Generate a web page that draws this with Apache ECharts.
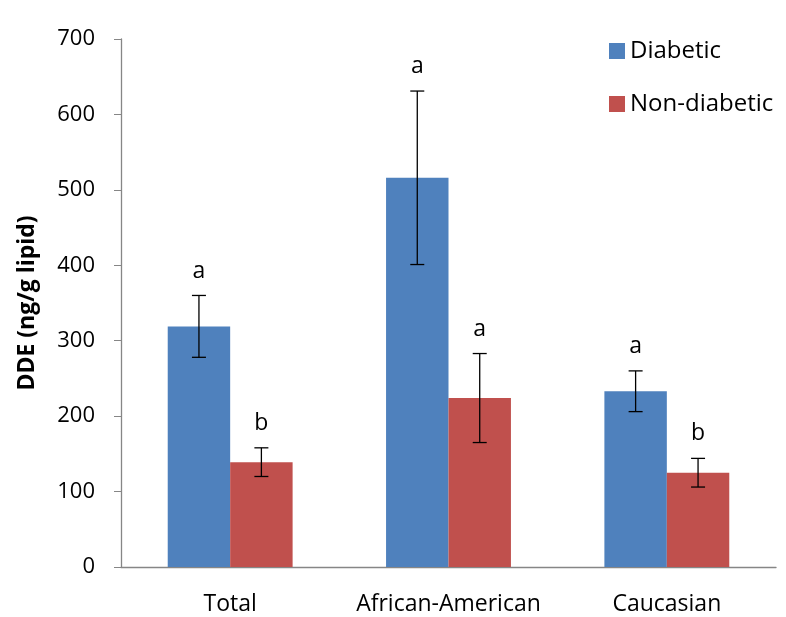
<!DOCTYPE html>
<html>
<head>
<meta charset="utf-8">
<script src="https://cdn.jsdelivr.net/npm/echarts@6/dist/echarts.min.js"></script>
<style>
  html, body { margin: 0; padding: 0; background: #fff; }
  #main { width: 786px; height: 617px; }
</style>
</head>
<body>
<div id="main"></div>
<script>
// data
var categories = ['Total', 'African-American', 'Caucasian'];
var diabetic = [319, 516, 233];
var diabeticErr = [41, 115, 27];
var diabeticLetters = ['a', 'a', 'a'];
var nonDiabetic = [139, 224, 125];
var nonDiabeticErr = [19, 59, 19];
var nonDiabeticLetters = ['b', 'a', 'b'];

var FONT = 'Open Sans';

// error bar + letter drawn on top of each bar
function errorSeries(values, errs, letters, idx) {
    var data = values.map(function (v, i) { return [i, v, errs[i], letters[i]]; });
    return {
        type: 'custom',
        name: 'err' + idx,
        z: 10,
        data: data,
        renderItem: function (params, api) {
            var i = api.value(0);
            var v = api.value(1);
            var e = api.value(2);
            var center = api.coord([i, v]);
            var bandW = api.size([1, 0])[0];
            var barW = bandW * 0.286;
            var x = center[0] + (idx === 0 ? -barW / 2 : barW / 2);
            var top = api.coord([i, v + e])[1];
            var bot = api.coord([i, v - e])[1];
            var cap = 7;
            var st = { stroke: '#000', lineWidth: 1.3 };
            return {
                type: 'group',
                children: [
                    { type: 'line', shape: { x1: x, y1: top, x2: x, y2: bot }, style: st },
                    { type: 'line', shape: { x1: x - cap, y1: top, x2: x + cap, y2: top }, style: st },
                    { type: 'line', shape: { x1: x - cap, y1: bot, x2: x + cap, y2: bot }, style: st },
                    {
                        type: 'text',
                        style: {
                            x: x, y: top - 13,
                            text: letters[i],
                            fill: '#000',
                            font: '23px "' + FONT + '"',
                            align: 'center',
                            verticalAlign: 'bottom'
                        }
                    }
                ]
            };
        }
    };
}

var myChart = echarts.init(document.getElementById('main'));
myChart.setOption({
    animation: false,
    textStyle: { fontFamily: FONT },
    grid: { left: 121, right: 10, top: 39, bottom: 50 },
    legend: {
        orient: 'vertical',
        left: 604,
        top: 34,
        itemWidth: 16,
        itemHeight: 16,
        itemGap: 29,
        icon: 'rect',
        textStyle: { fontSize: 24, color: '#000', fontFamily: FONT },
        data: ['Diabetic', 'Non-diabetic']
    },
    xAxis: {
        type: 'category',
        data: categories,
        axisLine: { lineStyle: { color: '#868686', width: 1.3 } },
        axisTick: { length: 7, lineStyle: { color: '#868686' } },
        axisLabel: { fontSize: 23, color: '#000', margin: 26, interval: 0 }
    },
    yAxis: {
        type: 'value',
        min: 0,
        max: 700,
        interval: 100,
        name: 'DDE (ng/g lipid)',
        nameLocation: 'middle',
        nameGap: 82,
        nameTextStyle: { fontSize: 23, fontWeight: 'bold', color: '#000' },
        splitLine: { show: false },
        axisLine: { show: true, lineStyle: { color: '#868686', width: 1.3 } },
        axisTick: { show: true, length: 7, lineStyle: { color: '#868686' } },
        axisLabel: { fontSize: 22, color: '#000', margin: 26 }
    },
    color: ['#4F81BD', '#C0504D'],
    series: [
        {
            name: 'Diabetic',
            type: 'bar',
            data: diabetic,
            barWidth: '28.6%',
            barGap: '0%'
        },
        {
            name: 'Non-diabetic',
            type: 'bar',
            data: nonDiabetic,
            barWidth: '28.6%',
            barGap: '0%'
        },
        errorSeries(diabetic, diabeticErr, diabeticLetters, 0),
        errorSeries(nonDiabetic, nonDiabeticErr, nonDiabeticLetters, 1)
    ]
});
</script>
</body>
</html>
